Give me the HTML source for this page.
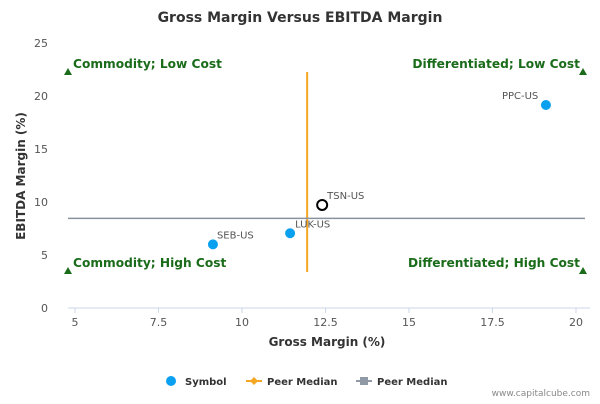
<!DOCTYPE html>
<html><head><meta charset="utf-8"><style>
body{margin:0;background:#fff;font-family:"DejaVu Sans","Liberation Sans",sans-serif}
</style></head><body>
<svg width="600" height="400" xmlns="http://www.w3.org/2000/svg" font-family="DejaVu Sans, Liberation Sans, sans-serif">
<rect width="600" height="400" fill="#fff"/>
<text x="300" y="22" text-anchor="middle" font-size="14" font-weight="bold" fill="#333">Gross Margin Versus EBITDA Margin</text>
<g id="axes"></g>
<g id="marks"></g>
<text x="327" y="346" text-anchor="middle" font-size="12" font-weight="bold" fill="#333">Gross Margin (%)</text>
<text transform="translate(25,176) rotate(-90)" text-anchor="middle" font-size="12" font-weight="bold" fill="#333">EBITDA Margin (%)</text>
<g>
<g><circle cx="171" cy="381" r="5" fill="#0aa0f0"/><text x="185" y="385" font-size="10" font-weight="bold" fill="#333">Symbol</text></g>
<g><line x1="246" y1="381" x2="262" y2="381" stroke="#f5a623" stroke-width="2"/><path d="M254 377 L258 381 L254 385 L250 381Z" fill="#f5a623"/><text x="267" y="385" font-size="10" font-weight="bold" fill="#333">Peer Median</text></g>
<g><line x1="356" y1="381" x2="372" y2="381" stroke="#9099a6" stroke-width="2"/><rect x="360" y="377" width="8" height="8" fill="#9099a6"/><text x="377" y="385" font-size="10" font-weight="bold" fill="#333">Peer Median</text></g>
</g>
<text x="590" y="396" text-anchor="end" font-size="9" fill="#888">www.capitalcube.com</text>
</svg>
<script>
const xTicks=[5,7.5,10,12.5,15,17.5,20];
const xTickLabels=["5","7.5","10","12.5","15","17.5","20"];
const yTicks=[0,5,10,15,20,25];
const names=["SEB-US","LUK-US","TSN-US","PPC-US"];
const grossMargin=[9.13,11.44,12.4,19.1];
const ebitdaMargin=[6.0,7.05,9.72,19.15];
const peerMedianGross=[11.95];
const peerMedianEbitda=[8.45];
const NS="http://www.w3.org/2000/svg";
const X=v=>75+(v-5)*33.4, Y=v=>308-v*10.6;
function mk(t,a,p,txt){const e=document.createElementNS(NS,t);for(const k in a)e.setAttribute(k,a[k]);if(txt!=null)e.textContent=txt;p.appendChild(e);return e;}
const ax=document.getElementById('axes'),mg=document.getElementById('marks');
let e=mk('line',{x1:68,y1:308,x2:590,y2:308,stroke:'#ccd6eb'},ax);


xTicks.forEach((v,i)=>{
 e=mk('line',{x1:X(v),y1:308,x2:X(v),y2:313,stroke:'#ccd6eb'},ax);
 
 
 e=mk('text',{x:X(v),y:326,'text-anchor':'middle','font-size':11,fill:'#555'},ax,xTickLabels[i]);
 
 
});
yTicks.forEach(v=>{
 e=mk('text',{x:48,y:Y(v)+4,'text-anchor':'end','font-size':11,fill:'#555'},ax,String(v));
 
 
});
const quads=[["Commodity; Low Cost",68,68,'start',1],["Differentiated; Low Cost",68,583,'end',1],["Commodity; High Cost",267,68,'start',0],["Differentiated; High Cost",267,583,'end',0]];
quads.forEach(q=>{
 e=mk('text',{x:q[3]=='start'?73:580,y:q[1],'text-anchor':q[3],'font-size':12.2,'font-weight':'bold',fill:'#1a6b1a'},mg,q[0]);
 
 
 const ty=q[4]?72:271, tx=q[2];
 e=mk('path',{d:`M${tx} ${ty-4} L${tx+4} ${ty+3} L${tx-4} ${ty+3}Z`,fill:'#1a6b1a'},mg);
 
 
});
e=mk('line',{x1:X(peerMedianGross[0]),y1:72,x2:X(peerMedianGross[0]),y2:272,stroke:'#f5a623','stroke-width':2},mg);


e=mk('line',{x1:68,y1:Y(peerMedianEbitda[0]),x2:585,y2:Y(peerMedianEbitda[0]),stroke:'#8a929e','stroke-width':1.5},mg);


names.forEach((n,i)=>{
 const cx=X(grossMargin[i]),cy=Y(ebitdaMargin[i]);
 const isT=n==="TSN-US";
 e=mk('circle',isT?{cx,cy,r:5,fill:'#fff',stroke:'#000','stroke-width':2}:{cx,cy,r:5,fill:'#0aa0f0'},mg);
 
 
 e=mk('text',{x:cx+(n==="PPC-US"?-44:n==="SEB-US"?4:5),y:cy-6,'font-size':10,fill:'#555'},mg,n);
 
 
});
</script>
</body></html>
